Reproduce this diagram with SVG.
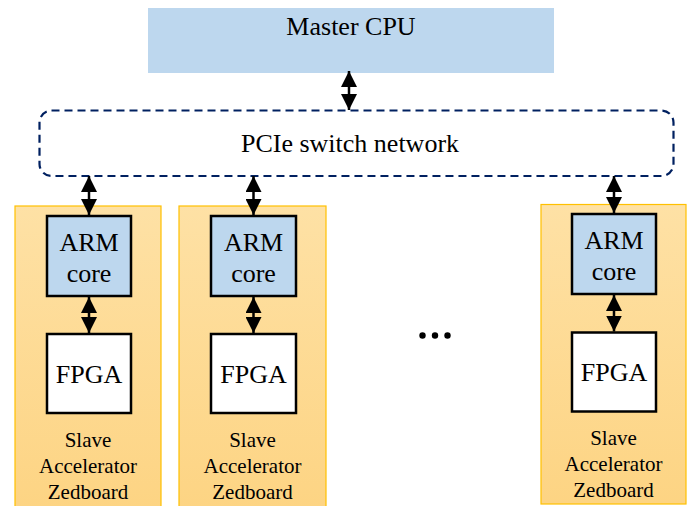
<svg xmlns="http://www.w3.org/2000/svg" width="690" height="506" viewBox="0 0 690 506">
  <defs>
    <linearGradient id="boardGrad" x1="0" y1="0" x2="0" y2="1">
      <stop offset="0" stop-color="#fee1a5"/>
      <stop offset="1" stop-color="#fdd483"/>
    </linearGradient>
    <marker id="ah" viewBox="0 0 16 16" refX="16" refY="8" markerWidth="16" markerHeight="16" markerUnits="userSpaceOnUse" orient="auto-start-reverse">
      <path d="M0,0 L16,8 L0,16 Z" fill="#000"/>
    </marker>
  </defs>
  <style>
    .t { font-family: "Liberation Serif", "Times New Roman", serif; fill: #000; text-anchor: middle; }
    .big { font-size: 26px; }
    .small { font-size: 21px; }
    .board { fill: url(#boardGrad); stroke: #ffc000; stroke-width: 1.2; }
    .arm { fill: #bdd7ee; stroke: #000; stroke-width: 2.5; }
    .fpga { fill: #fff; stroke: #000; stroke-width: 2.5; }
    .conn { stroke: #000; stroke-width: 2.5; fill: none; marker-start: url(#ah); marker-end: url(#ah); }
  </style>

  <g id="master-cpu">
    <rect x="148" y="8" width="406" height="65" fill="#bdd7ee"/>
    <text class="t big" x="351" y="35">Master CPU</text>
  </g>

  <g id="pcie-switch">
    <rect x="39.5" y="110.5" width="634" height="65.5" rx="12" ry="12" fill="none" stroke="#002060" stroke-width="2.2" stroke-dasharray="8,5"/>
    <text class="t big" x="350" y="152">PCIe switch network</text>
  </g>

  <g id="board1">
    <rect class="board" x="15" y="206" width="146" height="304"/>
    <text class="t small" x="88" y="447">Slave</text>
    <text class="t small" x="88" y="473">Accelerator</text>
    <text class="t small" x="88" y="499">Zedboard</text>
  </g>
  <g id="arm1">
    <rect class="arm" x="47" y="216" width="84" height="80"/>
    <text class="t big" x="89" y="251">ARM</text>
    <text class="t big" x="89" y="282">core</text>
  </g>
  <g id="fpga1">
    <rect class="fpga" x="47" y="334" width="84" height="79"/>
    <text class="t big" x="89" y="383">FPGA</text>
  </g>

  <g id="board2">
    <rect class="board" x="179" y="206" width="147" height="304"/>
    <text class="t small" x="252.5" y="447">Slave</text>
    <text class="t small" x="252.5" y="473">Accelerator</text>
    <text class="t small" x="252.5" y="499">Zedboard</text>
  </g>
  <g id="arm2">
    <rect class="arm" x="211" y="216" width="85" height="80"/>
    <text class="t big" x="253.5" y="251">ARM</text>
    <text class="t big" x="253.5" y="282">core</text>
  </g>
  <g id="fpga2">
    <rect class="fpga" x="211" y="334" width="85" height="79"/>
    <text class="t big" x="253.5" y="383">FPGA</text>
  </g>

  <g id="ellipsis">
    <circle cx="422.5" cy="335.5" r="3.2" fill="#000"/>
    <circle cx="435" cy="335.5" r="3.2" fill="#000"/>
    <circle cx="447.5" cy="335.5" r="3.2" fill="#000"/>
  </g>

  <g id="board3">
    <rect class="board" x="541" y="204.5" width="145" height="299.5"/>
    <text class="t small" x="613.5" y="445">Slave</text>
    <text class="t small" x="613.5" y="471">Accelerator</text>
    <text class="t small" x="613.5" y="497">Zedboard</text>
  </g>
  <g id="arm3">
    <rect class="arm" x="572" y="214" width="84" height="80"/>
    <text class="t big" x="614" y="249">ARM</text>
    <text class="t big" x="614" y="280">core</text>
  </g>
  <g id="fpga3">
    <rect class="fpga" x="572" y="332.5" width="84" height="79"/>
    <text class="t big" x="614" y="381">FPGA</text>
  </g>

  <g id="connectors">
    <line class="conn" x1="349" y1="71" x2="349" y2="110"/>
    <line class="conn" x1="89" y1="176" x2="89" y2="215"/>
    <line class="conn" x1="253.5" y1="176" x2="253.5" y2="215"/>
    <line class="conn" x1="614" y1="176" x2="614" y2="213"/>
    <line class="conn" x1="89" y1="297" x2="89" y2="333"/>
    <line class="conn" x1="253.5" y1="297" x2="253.5" y2="333"/>
    <line class="conn" x1="614" y1="295" x2="614" y2="331.5"/>
  </g>
</svg>
